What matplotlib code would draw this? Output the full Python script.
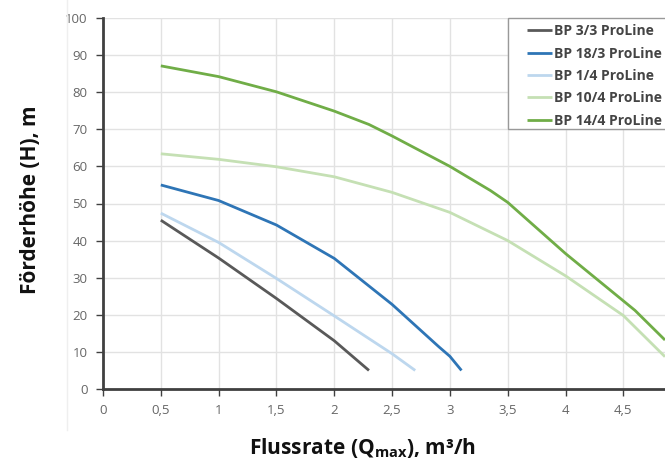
import matplotlib
matplotlib.use("Agg")
import matplotlib.pyplot as plt
from matplotlib.lines import Line2D
from matplotlib.patches import Rectangle

plt.rcParams['font.family'] = ['Open Sans', 'DejaVu Sans']

# data
names = ["BP 3/3 ProLine", "BP 18/3 ProLine", "BP 1/4 ProLine",
         "BP 10/4 ProLine", "BP 14/4 ProLine"]
colors = ["#595959", "#2e75b6", "#bdd7ee", "#c5e0b4", "#70ad47"]

q_33 = [0.5, 1.0, 1.5, 2.0, 2.3]
h_33 = [45.5, 35.3, 24.4, 13.0, 5.0]

q_183 = [0.5, 1.0, 1.5, 2.0, 2.5, 2.9, 3.0, 3.1]
h_183 = [55.0, 50.8, 44.2, 35.2, 22.8, 11.5, 8.8, 5.0]

q_14 = [0.5, 1.0, 1.5, 2.0, 2.5, 2.7]
h_14 = [47.4, 39.5, 29.8, 19.7, 9.5, 5.0]

q_104 = [0.5, 1.0, 1.5, 2.0, 2.5, 3.0, 3.5, 4.0, 4.5, 4.86]
h_104 = [63.4, 61.9, 59.9, 57.2, 53.0, 47.6, 40.0, 30.5, 19.8, 8.7]

q_144 = [0.5, 1.0, 1.5, 2.0, 2.3, 2.5, 3.0, 3.35, 3.5, 4.0, 4.6, 4.86]
h_144 = [87.1, 84.2, 80.1, 74.9, 71.3, 68.2, 60.0, 53.5, 50.3, 36.5, 21.2, 13.2]

series_q = [q_33, q_183, q_14, q_104, q_144]
series_h = [h_33, h_183, h_14, h_104, h_144]

x_ticks = [0, 0.5, 1, 1.5, 2, 2.5, 3, 3.5, 4, 4.5]
x_labels = ["0", "0,5", "1", "1,5", "2", "2,5", "3", "3,5", "4", "4,5"]
y_ticks = list(range(0, 101, 10))

W, H = 665, 463
fig = plt.figure(figsize=(6.65, 4.63), dpi=100)
ax = fig.add_axes([103 / W, 1 - 389 / H, 1 - 103 / W, (389 - 18) / H])

# faint container border on the left
fig.add_artist(Line2D([67 / W, 67 / W], [1 - 430 / H, 1.0],
                      transform=fig.transFigure, color="#efefef", lw=1))

for q, h, c, n in zip(series_q, series_h, colors, names):
    ax.plot(q, h, color=c, lw=2, label=n, solid_capstyle="butt")

ax.set_xlim(0, 4.86)
ax.set_ylim(0, 100)
ax.set_xticks(x_ticks)
ax.set_xticklabels(x_labels)
ax.set_yticks(y_ticks)
ax.grid(True, color="#e2e2e2", lw=1)
ax.set_axisbelow(True)

for s in ["top", "right"]:
    ax.spines[s].set_visible(False)
for s in ["left", "bottom"]:
    ax.spines[s].set_color("#404040")
    ax.spines[s].set_linewidth(2)

ax.tick_params(axis="both", colors="#404040", labelcolor="#666666",
               labelsize=9.5, length=5, width=1, pad=6)

ax.set_xlabel("Flussrate (Q$_{\\mathregular{max}}$), m³/h", fontsize=15,
              fontweight="bold", color="#111111", va="center")
ax.xaxis.set_label_coords((363 - 103) / 562, -(448 - 389) / 371)
ax.set_ylabel("Förderhöhe (H), m", fontsize=15, fontweight="bold",
              color="#111111", va="center")
ax.yaxis.set_label_coords(-(103 - 30) / 562, (389 - 200) / 371)

# legend frame runs past the right edge, so draw it by hand
frame = Rectangle((508 / W, 1 - 129 / H), 170 / W, (129 - 18) / H,
                  transform=fig.transFigure, facecolor="white",
                  edgecolor="#999999", lw=1, zorder=4, clip_on=False)
ax.add_patch(frame)
leg = ax.legend(loc="upper left", bbox_to_anchor=((521 - 103) / 562, 1.0),
                frameon=False, borderaxespad=0,
                prop={"size": 10, "weight": "bold"}, handlelength=1.8,
                handletextpad=0.1, labelspacing=0.6, borderpad=0.45)
leg.set_zorder(5)
for t in leg.get_texts():
    t.set_color("#444444")

fig.savefig("out.png", dpi=100)
